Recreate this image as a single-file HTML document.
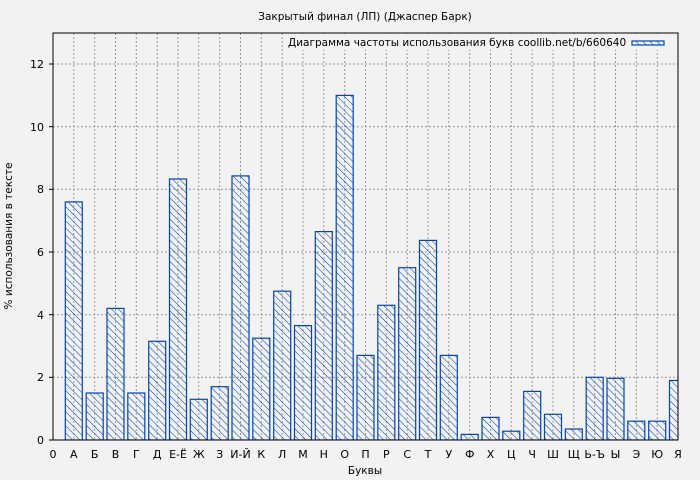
<!DOCTYPE html>
<html><head><meta charset="utf-8"><style>
html,body{margin:0;padding:0;background:#f2f2f2;}
svg{display:block;font-family:"DejaVu Sans","Liberation Sans",sans-serif;}
</style></head><body>
<svg width="700" height="480" viewBox="0 0 700 480" xmlns="http://www.w3.org/2000/svg">
<defs>
<pattern id="h" patternUnits="userSpaceOnUse" width="5" height="5" patternTransform="rotate(-45)">
<line x1="0" y1="0" x2="0" y2="5" stroke="#0044c0" stroke-width="1.1"/>
</pattern>
<clipPath id="c"><rect x="53" y="33" width="625" height="407"/></clipPath>
</defs>
<rect width="700" height="480" fill="#f2f2f2"/>
<text x="365" y="20" font-size="10.5" text-anchor="middle" fill="#000">Закрытый финал (ЛП) (Джаспер Барк)</text>
<g stroke="#999" stroke-width="1" stroke-dasharray="2,2">
<line x1="53" x2="678" y1="377.3" y2="377.3"/><line x1="53" x2="678" y1="314.7" y2="314.7"/><line x1="53" x2="678" y1="252" y2="252"/><line x1="53" x2="678" y1="189.3" y2="189.3"/><line x1="53" x2="678" y1="126.7" y2="126.7"/><line x1="53" x2="678" y1="64" y2="64"/>
<line x1="73.8" x2="73.8" y1="33" y2="440"/><line x1="94.7" x2="94.7" y1="33" y2="440"/><line x1="115.5" x2="115.5" y1="33" y2="440"/><line x1="136.3" x2="136.3" y1="33" y2="440"/><line x1="157.2" x2="157.2" y1="33" y2="440"/><line x1="178" x2="178" y1="33" y2="440"/><line x1="198.8" x2="198.8" y1="33" y2="440"/><line x1="219.7" x2="219.7" y1="33" y2="440"/><line x1="240.5" x2="240.5" y1="33" y2="440"/><line x1="261.3" x2="261.3" y1="33" y2="440"/><line x1="282.2" x2="282.2" y1="33" y2="440"/><line x1="303" x2="303" y1="33" y2="440"/><line x1="323.8" x2="323.8" y1="33" y2="440"/><line x1="344.7" x2="344.7" y1="33" y2="440"/><line x1="365.5" x2="365.5" y1="33" y2="440"/><line x1="386.3" x2="386.3" y1="33" y2="440"/><line x1="407.2" x2="407.2" y1="33" y2="440"/><line x1="428" x2="428" y1="33" y2="440"/><line x1="448.8" x2="448.8" y1="33" y2="440"/><line x1="469.7" x2="469.7" y1="33" y2="440"/><line x1="490.5" x2="490.5" y1="33" y2="440"/><line x1="511.3" x2="511.3" y1="33" y2="440"/><line x1="532.2" x2="532.2" y1="33" y2="440"/><line x1="553" x2="553" y1="33" y2="440"/><line x1="573.8" x2="573.8" y1="33" y2="440"/><line x1="594.7" x2="594.7" y1="33" y2="440"/><line x1="615.5" x2="615.5" y1="33" y2="440"/><line x1="636.3" x2="636.3" y1="33" y2="440"/><line x1="657.2" x2="657.2" y1="33" y2="440"/>
</g>
<g clip-path="url(#c)" fill="url(#h)" stroke="#0044c0" stroke-width="1.2">
<rect x="65.3" y="201.9" width="17" height="238.1"/>
<rect x="86.2" y="393" width="17" height="47"/>
<rect x="107" y="308.4" width="17" height="131.6"/>
<rect x="127.8" y="393" width="17" height="47"/>
<rect x="148.7" y="341.3" width="17" height="98.7"/>
<rect x="169.5" y="179" width="17" height="261"/>
<rect x="190.3" y="399.3" width="17" height="40.7"/>
<rect x="211.2" y="386.7" width="17" height="53.3"/>
<rect x="232" y="175.9" width="17" height="264.1"/>
<rect x="252.8" y="338.2" width="17" height="101.8"/>
<rect x="273.7" y="291.2" width="17" height="148.8"/>
<rect x="294.5" y="325.6" width="17" height="114.4"/>
<rect x="315.3" y="231.6" width="17" height="208.4"/>
<rect x="336.2" y="95.4" width="17" height="344.6"/>
<rect x="357" y="355.4" width="17" height="84.6"/>
<rect x="377.8" y="305.3" width="17" height="134.7"/>
<rect x="398.7" y="267.7" width="17" height="172.3"/>
<rect x="419.5" y="240.4" width="17" height="199.6"/>
<rect x="440.3" y="355.4" width="17" height="84.6"/>
<rect x="461.2" y="434.4" width="17" height="5.6"/>
<rect x="482" y="417.4" width="17" height="22.6"/>
<rect x="502.8" y="431.2" width="17" height="8.8"/>
<rect x="523.7" y="391.4" width="17" height="48.6"/>
<rect x="544.5" y="414.3" width="17" height="25.7"/>
<rect x="565.3" y="429" width="17" height="11"/>
<rect x="586.2" y="377.3" width="17" height="62.7"/>
<rect x="607" y="378.3" width="17" height="61.7"/>
<rect x="627.8" y="421.2" width="17" height="18.8"/>
<rect x="648.7" y="421.2" width="17" height="18.8"/>
<rect x="669.5" y="380.5" width="17" height="59.5"/>
</g>
<rect x="284" y="34" width="390" height="16" fill="#f2f2f2"/>
<text x="288" y="46" font-size="10.5" fill="#000">Диаграмма частоты использования букв coollib.net/b/660640</text>
<rect x="632" y="41" width="32" height="4" fill="url(#h)" stroke="#0044c0" stroke-width="1.2"/>
<rect x="53" y="33" width="625" height="407" fill="none" stroke="#000" stroke-width="1"/>
<g font-size="11" fill="#000" text-anchor="end">
<text x="44" y="444">0</text><text x="44" y="381">2</text><text x="44" y="319">4</text><text x="44" y="256">6</text><text x="44" y="193">8</text><text x="44" y="131">10</text><text x="44" y="68">12</text>
</g>
<g stroke="#000"><line x1="49" x2="53" y1="440" y2="440"/><line x1="49" x2="53" y1="377.3" y2="377.3"/><line x1="49" x2="53" y1="314.7" y2="314.7"/><line x1="49" x2="53" y1="252" y2="252"/><line x1="49" x2="53" y1="189.3" y2="189.3"/><line x1="49" x2="53" y1="126.7" y2="126.7"/><line x1="49" x2="53" y1="64" y2="64"/></g>
<g font-size="11" fill="#000" text-anchor="middle">
<text x="53" y="458">0</text><text x="73.8" y="458">А</text><text x="94.7" y="458">Б</text><text x="115.5" y="458">В</text><text x="136.3" y="458">Г</text><text x="157.2" y="458">Д</text><text x="178" y="458">Е-Ё</text><text x="198.8" y="458">Ж</text><text x="219.7" y="458">З</text><text x="240.5" y="458">И-Й</text><text x="261.3" y="458">К</text><text x="282.2" y="458">Л</text><text x="303" y="458">М</text><text x="323.8" y="458">Н</text><text x="344.7" y="458">О</text><text x="365.5" y="458">П</text><text x="386.3" y="458">Р</text><text x="407.2" y="458">С</text><text x="428" y="458">Т</text><text x="448.8" y="458">У</text><text x="469.7" y="458">Ф</text><text x="490.5" y="458">Х</text><text x="511.3" y="458">Ц</text><text x="532.2" y="458">Ч</text><text x="553" y="458">Ш</text><text x="573.8" y="458">Щ</text><text x="594.7" y="458">Ь-Ъ</text><text x="615.5" y="458">Ы</text><text x="636.3" y="458">Э</text><text x="657.2" y="458">Ю</text><text x="678" y="458">Я</text>
</g>
<text x="365" y="474" font-size="10.5" text-anchor="middle" fill="#000">Буквы</text>
<text transform="translate(12,236) rotate(-90)" font-size="10.5" text-anchor="middle" fill="#000">% использования в тексте</text>
</svg>
</body></html>
